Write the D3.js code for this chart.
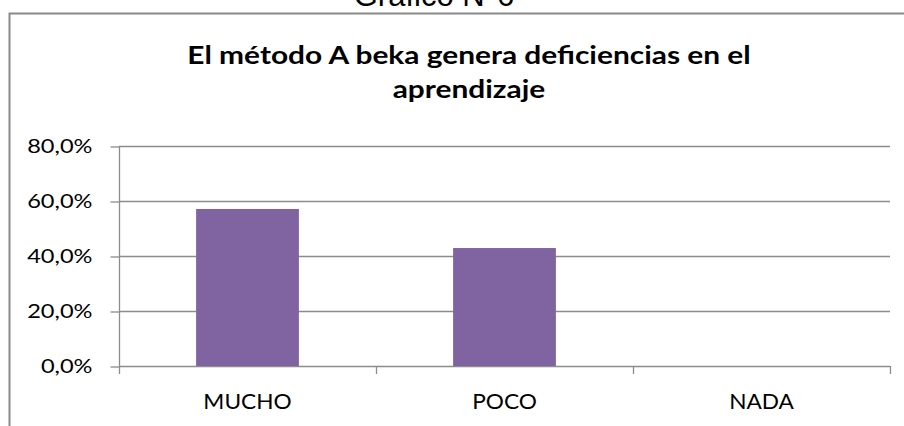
<!DOCTYPE html>
<html>
<head>
<meta charset="utf-8">
<script src="https://cdn.jsdelivr.net/npm/d3@7"></script>
<style>
  html, body { margin: 0; padding: 0; background: #ffffff; }
  svg { display: block; }
</style>
</head>
<body>
<script>
// ---- data ----
const categories = ["MUCHO", "POCO", "NADA"];
const values = [0.571, 0.429, 0.0];
const yTicks = [0, 0.2, 0.4, 0.6, 0.8];
const titleLines = ["El método A beka genera deficiencias en el", "aprendizaje"];
const caption = "Gráfico N°6";

// ---- layout ----
const W = 904, H = 426;
const plot = { left: 119, right: 890, top: 146, bottom: 366 };
const barColor = "#8064A2";
const gridColor = "#8c8c8c";
const calibri = "Lato, 'Open Sans', sans-serif";

const svg = d3.select("body").append("svg").attr("width", W).attr("height", H);
svg.append("rect").attr("width", W).attr("height", H).attr("fill", "#fff");

// caption above frame (cut off, as in the reference)
svg.append("text")
  .attr("x", 434).attr("y", 5.5)
  .attr("text-anchor", "middle")
  .attr("font-family", "'Liberation Sans', Arial, sans-serif")
  .attr("font-size", 31)
  .attr("fill", "#000")
  .text(caption);

// chart frame (top and left visible)
svg.append("path")
  .attr("d", `M9.5,${H} L9.5,13.5 L${W},13.5`)
  .attr("fill", "none")
  .attr("stroke", "#8a8a8a")
  .attr("stroke-width", 2);

// title
const titleBase = [64, 98];
svg.append("g").selectAll("text")
  .data(titleLines)
  .join("text")
  .attr("transform", (d, i) => `translate(469,${titleBase[i]}) scale(1.22,1)`)
  .attr("text-anchor", "middle")
  .attr("font-family", calibri)
  .attr("font-weight", "bold")
  .attr("font-size", 24.5)
  .attr("fill", "#000")
  .text(d => d);

// scales
const x = d3.scaleBand()
  .domain(categories)
  .range([plot.left, plot.right])
  .paddingInner(0.6)
  .paddingOuter(0.3);
const y = d3.scaleLinear().domain([0, 0.8]).range([plot.bottom, plot.top]);

const locale = d3.formatLocale({ decimal: ",", thousands: ".", grouping: [3], currency: ["", "€"] });
const fmt = locale.format(".1%");

// gridlines
svg.append("g").selectAll("line")
  .data(yTicks)
  .join("line")
  .attr("x1", plot.left).attr("x2", plot.right)
  .attr("y1", d => Math.round(y(d)) + 0.5).attr("y2", d => Math.round(y(d)) + 0.5)
  .attr("stroke", gridColor).attr("stroke-width", 1.3);

// y axis
const yAxis = svg.append("g")
  .attr("transform", `translate(${plot.left + 0.5},0)`)
  .call(d3.axisLeft(y).tickValues(yTicks).tickFormat(fmt).tickSize(9).tickPadding(18));
yAxis.select(".domain").attr("stroke", gridColor).attr("stroke-width", 1.3)
  .attr("d", `M0,${plot.top} V${plot.bottom}`);
yAxis.selectAll(".tick line").attr("stroke", gridColor).attr("stroke-width", 1.3)
  .attr("transform", "translate(0,0.5)");
yAxis.selectAll(".tick text")
  .attr("font-family", calibri)
  .attr("font-size", 20)
  .attr("fill", "#000")
  .attr("x", 0)
  .attr("transform", "translate(-27,0) scale(1.18,1)");

// bars
svg.append("g").selectAll("rect")
  .data(categories.map((c, i) => ({ c, v: values[i] })))
  .join("rect")
  .attr("x", d => x(d.c))
  .attr("width", x.bandwidth())
  .attr("y", d => y(d.v))
  .attr("height", d => y(0) - y(d.v))
  .attr("fill", barColor);

// x axis boundary ticks
const bounds = d3.range(categories.length + 1).map(i => plot.left + i * x.step());
svg.append("g").selectAll("line")
  .data(bounds)
  .join("line")
  .attr("x1", d => Math.round(d) + 0.5).attr("x2", d => Math.round(d) + 0.5)
  .attr("y1", plot.bottom).attr("y2", plot.bottom + 8)
  .attr("stroke", gridColor).attr("stroke-width", 1.3);

// category labels
svg.append("g").selectAll("text")
  .data(categories)
  .join("text")
  .attr("transform", d => `translate(${x(d) + x.bandwidth() / 2},409) scale(1.03,1)`)
  .attr("text-anchor", "middle")
  .attr("font-family", calibri)
  .attr("font-size", 22)
  .attr("fill", "#000")
  .text(d => d);
</script>
</body>
</html>
